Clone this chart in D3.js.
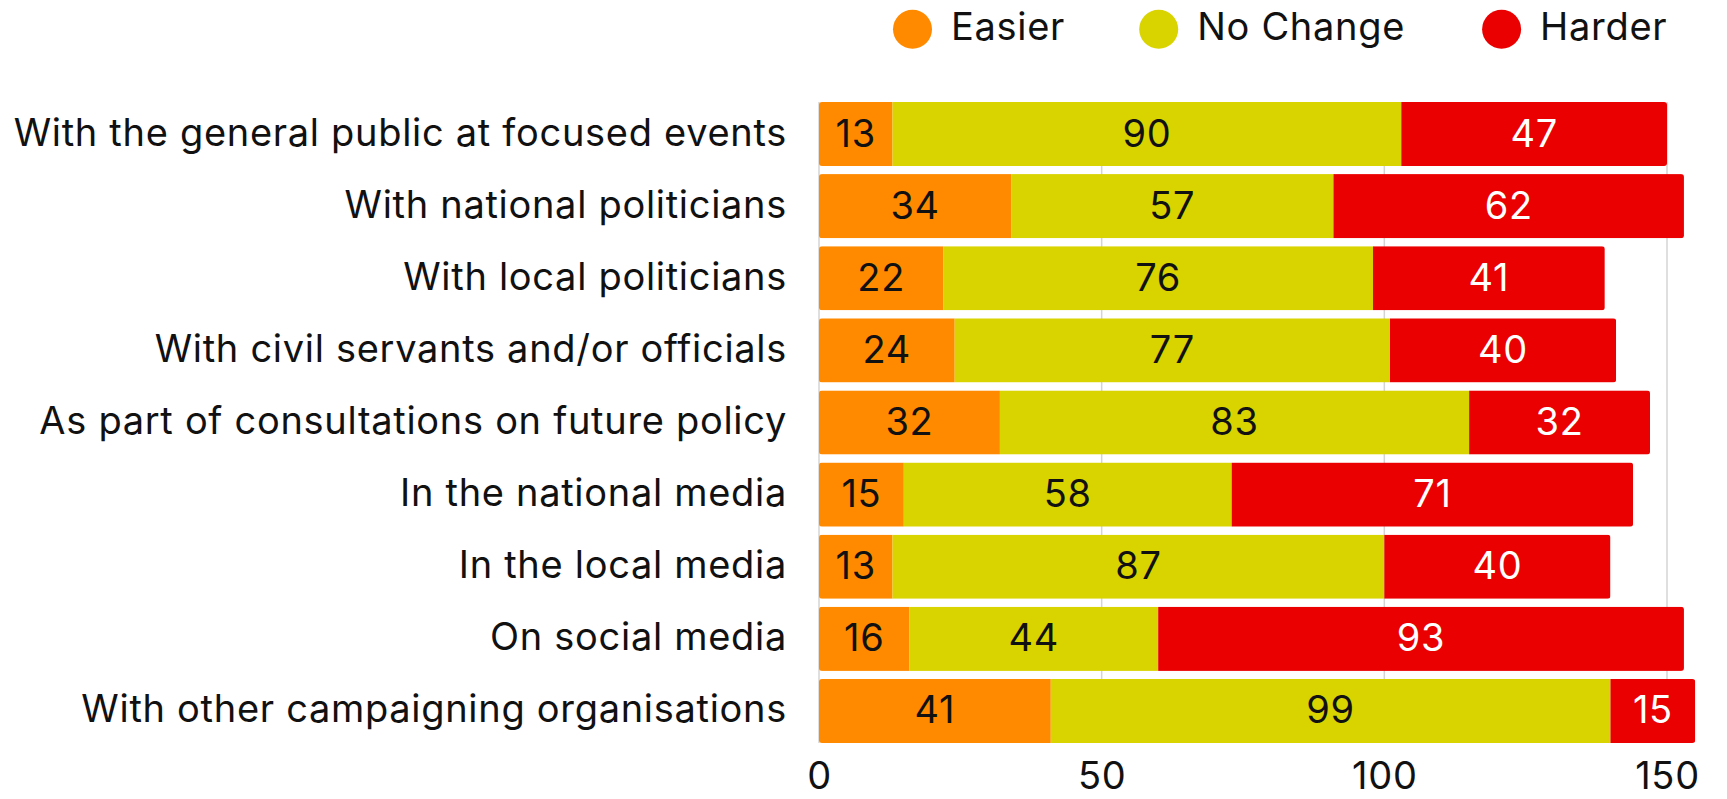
<!DOCTYPE html>
<html>
<head>
<meta charset="utf-8">
<script src="https://cdn.jsdelivr.net/npm/d3@7"></script>
<style>
  html, body { margin: 0; padding: 0; background: #fff; }
  svg { display: block; font-family: Inter, "Noto Sans", sans-serif; letter-spacing: 0.7px; }
</style>
</head>
<body>
<svg id="chart" width="1727" height="799"></svg>
<script>
// Survey: how engagement has changed, by channel
const categories = [
  "With the general public at focused events",
  "With national politicians",
  "With local politicians",
  "With civil servants and/or officials",
  "As part of consultations on future policy",
  "In the national media",
  "In the local media",
  "On social media",
  "With other campaigning organisations"
];
const seriesNames = ["Easier", "No Change", "Harder"];
const easier    = [13, 34, 22, 24, 32, 15, 13, 16, 41];
const noChange  = [90, 57, 76, 77, 83, 58, 87, 44, 99];
const harder    = [47, 62, 41, 40, 32, 71, 40, 93, 15];
const xTicks    = [0, 50, 100, 150];

const colors = { "Easier": "#FF8A00", "No Change": "#D9D300", "Harder": "#EA0000" };
const labelColors = { "Easier": "#111", "No Change": "#111", "Harder": "#fff" };

const rows = categories.map((c, i) => ({
  category: c, "Easier": easier[i], "No Change": noChange[i], "Harder": harder[i]
}));

const svg = d3.select("#chart");
const fontSize = 38;

const x = d3.scaleLinear().domain([0, 150]).range([819, 1667]);
const y = d3.scaleBand().domain(categories).range([102, 743]).paddingInner(0.111).paddingOuter(0);
const mid = d => y(d) + y.bandwidth() / 2;

// Vertical grid lines
svg.append("g")
  .selectAll("line")
  .data(xTicks)
  .join("line")
  .attr("x1", d => x(d)).attr("x2", d => x(d))
  .attr("y1", 102).attr("y2", 743)
  .attr("stroke", "#d4d4d4").attr("stroke-width", 1.5);

// Stacked bars, each row clipped to a softly rounded outline
const stacked = d3.stack().keys(seriesNames)(rows);

const defs = svg.append("defs");
rows.forEach((r, i) => {
  const total = r["Easier"] + r["No Change"] + r["Harder"];
  defs.append("clipPath").attr("id", "clip" + i)
    .append("rect")
    .attr("x", x(0)).attr("y", y(r.category))
    .attr("width", x(total) - x(0)).attr("height", y.bandwidth())
    .attr("rx", 3);
});

const barG = svg.append("g");
stacked.forEach(layer => {
  const key = layer.key;
  layer.forEach((seg, i) => {
    barG.append("rect")
      .attr("clip-path", "url(#clip" + i + ")")
      .attr("x", x(seg[0]))
      .attr("y", y(categories[i]))
      .attr("width", x(seg[1]) - x(seg[0]))
      .attr("height", y.bandwidth())
      .attr("fill", colors[key]);
    barG.append("text")
      .attr("x", (x(seg[0]) + x(seg[1])) / 2)
      .attr("y", mid(categories[i]) + 12.5)
      .attr("text-anchor", "middle")
      .attr("font-size", fontSize)
      .attr("fill", labelColors[key])
      .text(seg.data[key]);
  });
});

// Category labels
svg.append("g")
  .selectAll("text")
  .data(categories)
  .join("text")
  .attr("x", 787)
  .attr("y", d => mid(d) + 11.5)
  .attr("text-anchor", "end")
  .attr("font-size", fontSize)
  .attr("fill", "#111")
  .text(d => d);

// Bottom axis (labels only)
const xAxis = svg.append("g")
  .attr("transform", "translate(0,789)")
  .call(d3.axisBottom(x).tickValues(xTicks).tickSize(0).tickPadding(0));
xAxis.select(".domain").remove();
xAxis.selectAll("text")
  .attr("font-size", fontSize)
  .attr("font-family", "Inter, 'Noto Sans', sans-serif")
  .attr("fill", "#111")
  .attr("y", 0)
  .attr("dy", "0");

// Legend
const legendX = [912.5, 1158.7, 1501.6];
const legend = svg.append("g");
seriesNames.forEach((name, i) => {
  legend.append("circle")
    .attr("cx", legendX[i]).attr("cy", 29.3).attr("r", 19.5)
    .attr("fill", colors[name]);
  legend.append("text")
    .attr("x", legendX[i] + 38.5).attr("y", 39.5)
    .attr("font-size", fontSize)
    .attr("fill", "#111")
    .text(name);
});
</script>
</body>
</html>
